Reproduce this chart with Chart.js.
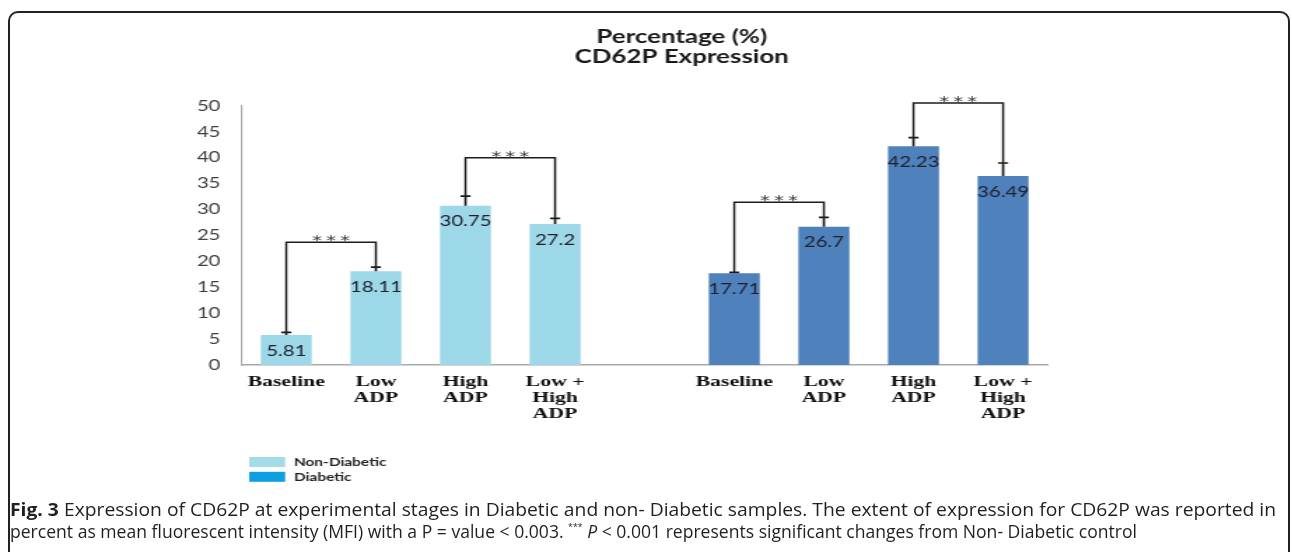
<!DOCTYPE html>
<html>
<head>
<meta charset="utf-8">
<script src="https://cdn.jsdelivr.net/npm/chart.js@4.4.1/dist/chart.umd.min.js"></script>
<style>
  html, body { margin: 0; padding: 0; background: #fff; width: 1292px; height: 552px; overflow: hidden; }
  #frame { position: absolute; left: 8px; top: 11px; width: 1282px; height: 620px; border: 2px solid #222; border-radius: 10px; box-sizing: border-box; }
  #plot { position: absolute; left: 0; top: 0; }
  #caption { position: absolute; left: 10px; top: 498px; font-family: "Open Sans", sans-serif; font-size: 18px; color: #231f20; line-height: 22px; }
  #caption .line { white-space: nowrap; transform-origin: 0 50%; width: max-content; }
  #caption sup { font-size: 9px; vertical-align: 8px; line-height: 0; }
</style>
</head>
<body>
<div id="frame"></div>
<!-- drawn at 923 px wide and shown at 1292 px, giving the wide lettering of the figure -->
<canvas id="plot" width="923" height="552" style="width:1292px;height:552px;"></canvas>
<div id="caption">
  <div class="line" data-w="1266"><b>Fig. 3</b> Expression of CD62P at experimental stages in Diabetic and non- Diabetic samples. The extent of expression for CD62P was reported in</div>
  <div class="line" data-w="1127">percent as mean fluorescent intensity (MFI) with a P = value &lt; 0.003. <sup>***</sup> <i>P</i> &lt; 0.001 represents significant changes from Non- Diabetic control</div>
</div>
<script>
// Stages for each group; the empty slot separates the two groups
const categories = ['Baseline', ['Low', 'ADP'], ['High', 'ADP'], ['Low +', 'High', 'ADP'], '',
                    'Baseline', ['Low', 'ADP'], ['High', 'ADP'], ['Low +', 'High', 'ADP']];

// Mean CD62P expression (%)
const nonDiabetic = [5.81, 18.11, 30.75, 27.2, null, null, null, null, null];
const diabetic    = [null, null, null, null, null, 17.71, 26.7, 42.23, 36.49];

// Upper end of the error bars
const nonDiabeticErr = [6.3, 18.9, 32.6, 28.3, null, null, null, null, null];
const diabeticErr    = [null, null, null, null, null, 17.9, 28.5, 43.9, 39.0];

// Significance brackets: pairs of stages and the level of the bracket
const bracketFrom  = [0, 2, 5, 7];
const bracketTo    = [1, 3, 6, 8];
const bracketLevel = [23.7, 40.0, 31.4, 50.6];
const bracketMark  = '***';

const titleLines = ['Percentage (%)', 'CD62P Expression'];
const legendNames = ['Non-Diabetic', 'Diabetic'];
const legendColors = ['#a3dbeb', '#0d9fe0'];

const barColors = ['#9dd8e9', '#4f81bd'];
const errors = [nonDiabeticErr, diabeticErr];

const INK = '#1c1c1c';

function barAt(chart, index) {
  for (let d = 0; d < chart.data.datasets.length; d++) {
    const v = chart.data.datasets[d].data[index];
    if (v !== null && v !== undefined) {
      return { el: chart.getDatasetMeta(d).data[index], value: v, err: errors[d][index] };
    }
  }
  return null;
}

const annotate = {
  id: 'annotate',
  afterDatasetsDraw(chart) {
    const ctx = chart.ctx;
    const y = chart.scales.y;
    ctx.save();

    // value labels inside the top of each bar
    ctx.font = '14.5px Lato';
    ctx.textAlign = 'center';
    ctx.textBaseline = 'middle';
    ctx.fillStyle = '#20202c';
    chart.data.datasets.forEach((ds, d) => {
      const meta = chart.getDatasetMeta(d);
      ds.data.forEach((v, i) => {
        if (v === null) return;
        const bar = meta.data[i];
        ctx.fillText(String(v), bar.x, bar.y + 16);
      });
    });

    // error bars and caps
    ctx.strokeStyle = INK;
    ctx.fillStyle = INK;
    ctx.lineWidth = 1.7;
    chart.data.datasets.forEach((ds, d) => {
      const meta = chart.getDatasetMeta(d);
      ds.data.forEach((v, i) => {
        if (v === null) return;
        const bar = meta.data[i];
        const ep = y.getPixelForValue(errors[d][i]);
        ctx.beginPath();
        ctx.moveTo(bar.x, bar.y);
        ctx.lineTo(bar.x, ep);
        ctx.moveTo(bar.x - 3.6, ep);
        ctx.lineTo(bar.x + 3.6, ep);
        ctx.stroke();
      });
    });

    // significance brackets
    ctx.lineWidth = 1.5;
    ctx.font = '14px "DejaVu Sans"';
    ctx.letterSpacing = '3px';
    ctx.fillStyle = '#333';
    ctx.textBaseline = 'alphabetic';
    bracketFrom.forEach((a, k) => {
      const A = barAt(chart, a), B = barAt(chart, bracketTo[k]);
      const lp = y.getPixelForValue(bracketLevel[k]);
      ctx.beginPath();
      ctx.moveTo(A.el.x, y.getPixelForValue(A.err));
      ctx.lineTo(A.el.x, lp);
      ctx.lineTo(B.el.x, lp);
      ctx.lineTo(B.el.x, y.getPixelForValue(B.err));
      ctx.stroke();
      ctx.fillText(bracketMark, (A.el.x + B.el.x) / 2 + 1.5, lp + 2.7);
    });
    ctx.letterSpacing = '0px';
    ctx.restore();
  },
  afterDraw(chart) {
    const ctx = chart.ctx;
    ctx.save();
    // title
    ctx.fillStyle = '#1a1a1a';
    ctx.font = 'bold 18.5px Lato';
    ctx.textAlign = 'center';
    ctx.textBaseline = 'middle';
    ctx.fillText(titleLines[0], 487, 37);
    ctx.fillText(titleLines[1], 487, 57);
    // legend
    ctx.textAlign = 'left';
    ctx.font = 'bold 11px Lato';
    legendNames.forEach((name, i) => {
      const top = 457 + i * 14.8;
      ctx.fillStyle = legendColors[i];
      ctx.fillRect(178, top, 25.7, 10);
      ctx.fillStyle = '#222';
      ctx.fillText(name, 210, top + 5.5);
    });
    ctx.restore();
  }
};

new Chart(document.getElementById('plot'), {
  type: 'bar',
  data: {
    labels: categories,
    datasets: [
      { label: legendNames[0], data: nonDiabetic, backgroundColor: barColors[0] },
      { label: legendNames[1], data: diabetic, backgroundColor: barColors[1] }
    ]
  },
  options: {
    responsive: false,
    animation: false,
    devicePixelRatio: 1,
    layout: { padding: { left: 0, right: 174.4, top: 106, bottom: 127 } },
    datasets: { bar: { grouped: false, categoryPercentage: 1, barPercentage: 0.569, skipNull: true } },
    plugins: {
      legend: { display: false },
      title: { display: false },
      tooltip: { enabled: false }
    },
    scales: {
      x: {
        grid: { display: false, drawTicks: false },
        border: { display: true, color: '#a9a9a9', width: 1.6 },
        ticks: {
          autoSkip: false, maxRotation: 0, minRotation: 0, padding: 9,
          color: '#111',
          font: { family: 'Liberation Serif', weight: 'bold', size: 15.5, lineHeight: 1.03 }
        },
        afterFit(s) { s.height = 60; }
      },
      y: {
        min: 0, max: 50,
        grid: { display: false, drawTicks: false },
        border: { display: true, color: '#a9a9a9', width: 1.1 },
        ticks: {
          stepSize: 5, padding: 15, color: '#404040',
          font: { family: 'Lato', size: 14.5 }
        },
        afterFit(s) { s.width = 172.5; }
      }
    }
  },
  plugins: [annotate]
});

// fit each caption line to its column width
document.querySelectorAll('#caption .line').forEach(el => {
  const w = el.getBoundingClientRect().width;
  el.style.transform = 'scaleX(' + (parseFloat(el.dataset.w) / w) + ')';
});
</script>
</body>
</html>
